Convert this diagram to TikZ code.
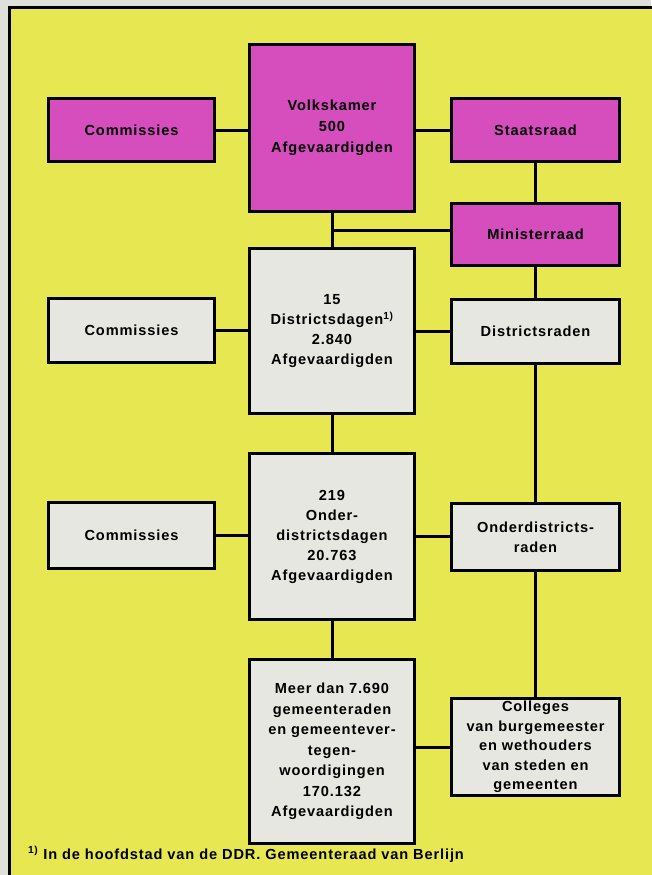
\documentclass[tikz,border=0pt]{standalone}
\usepackage{fontspec}
\newfontfamily\lab[LetterSpace=6]{Liberation Sans Bold}
\definecolor{pagegray}{RGB}{224,224,218}
\definecolor{ddryellow}{RGB}{231,231,82}
\definecolor{ddrmag}{RGB}{214,78,190}
\definecolor{boxgray}{RGB}{231,231,226}
\tikzset{
  box/.style={draw=black, line width=3pt, align=center, inner sep=0pt,
    font=\fontsize{14.6}{20}\lab, text width=162pt},
  magbox/.style={box, fill=ddrmag},
  graybox/.style={box, fill=boxgray},
  conn/.style={line width=3pt},
}
\begin{document}
\begin{tikzpicture}[x=1pt,y=-1pt]
\useasboundingbox (0,0) rectangle (651,875);
\fill[pagegray] (0,0) rectangle (651,875);
\fill[ddryellow, draw=black, line width=3pt] (9.5,8) rectangle (680,900);
% row 1
\node[magbox, minimum width=166pt, minimum height=63pt] (comm1) at (131.5,130) {Commissies};
\node[magbox, minimum width=165pt, minimum height=167pt, font=\fontsize{14.6}{21}\lab] (volk) at (332,128) {Volkskamer\\500\\Afgevaardigden};
\node[magbox, minimum width=168pt, minimum height=63pt] (staat) at (535.5,130) {Staatsraad};
\node[magbox, minimum width=168pt, minimum height=62pt] (minis) at (535.5,234.5) {Ministerraad};
% row 2
\node[graybox, minimum width=166pt, minimum height=64pt] (comm2) at (131.5,330.5) {Commissies};
\node[graybox, minimum width=165pt, minimum height=165pt] (dist) at (332,331) {15\\Districtsdagen\textsuperscript{1)}\\2.840\\Afgevaardigden};
\node[graybox, minimum width=168pt, minimum height=64pt] (distr) at (535.5,331.5) {Districtsraden};
% row 3
\node[graybox, minimum width=166pt, minimum height=66pt] (comm3) at (131.5,535.5) {Commissies};
\node[graybox, minimum width=165pt, minimum height=166pt] (onder) at (332,536.5) {219\\Onder-\\districtsdagen\\20.763\\Afgevaardigden};
\node[graybox, minimum width=168pt, minimum height=67pt] (onderr) at (535.5,537) {Onderdistricts-\\raden};
% row 4
\node[graybox, minimum width=165pt, minimum height=184pt, font=\fontsize{14.6}{20.5}\lab] (gem) at (332,751.5) {Meer dan 7.690\\gemeenteraden\\en gemeentever-\\tegen-\\woordigingen\\170.132\\Afgevaardigden};
\node[graybox, minimum width=168pt, minimum height=97pt, font=\fontsize{14.6}{19.5}\lab] (coll) at (535.5,747) {Colleges\\van burgemeester\\en wethouders\\van steden en\\gemeenten};
% footnote
\node[anchor=base west, inner sep=0pt, font=\fontsize{14.6}{16}\lab] (foot) at (28,859) {\textsuperscript{1)} In de hoofdstad van de DDR. Gemeenteraad van Berlijn};
% connectors
\coordinate (br) at (332,230);
\draw[conn] (comm1.east) -- (comm1.east -| volk.west);
\draw[conn] (staat.west) -- (staat.west -| volk.east);
\draw[conn] (staat.south) -- (minis.north);
\draw[conn] (volk.south) -- (dist.north);
\draw[conn] (br) -- (br -| minis.west);
\draw[conn] (comm2.east) -- (comm2.east -| dist.west);
\draw[conn] (dist.east) -- (dist.east -| distr.west);
\draw[conn] (minis.south) -- (distr.north);
\draw[conn] (dist.south) -- (onder.north);
\draw[conn] (distr.south) -- (onderr.north);
\draw[conn] (comm3.east) -- (comm3.east -| onder.west);
\draw[conn] (onder.east) -- (onder.east -| onderr.west);
\draw[conn] (onder.south) -- (gem.north);
\draw[conn] (onderr.south) -- (coll.north);
\draw[conn] (coll.west) -- (coll.west -| gem.east);
\end{tikzpicture}
\end{document}
